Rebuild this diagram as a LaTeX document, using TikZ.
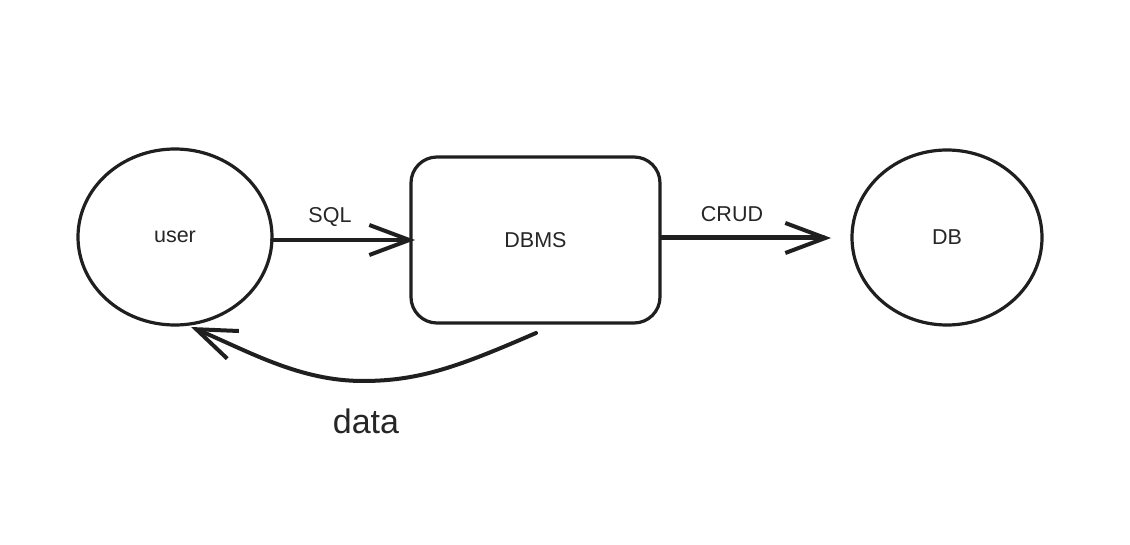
\documentclass[tikz,border=0pt]{standalone}
\usepackage{fontspec}
\setmainfont{Liberation Sans}
\usetikzlibrary{arrows.meta,shapes.geometric}
\begin{document}
\begin{tikzpicture}[x=1pt,y=-1pt,
  shapeline/.style={draw=black!88,line width=3.2pt},
  lbl/.style={font=\fontsize{21.5}{24}\selectfont,text=black!85},
  conn/.style={draw=black!88,line width=4pt,line cap=round,
    -{Straight Barb[length=40pt,width=30pt,line width=4pt]}}]
\useasboundingbox[fill=white] (0,0) rectangle (1130,545);
\node[shapeline,ellipse,minimum width=194pt,minimum height=176pt,inner sep=0pt] (user) at (175,237) {};
\node[lbl] at (user.center) {user};
\node[shapeline,rounded corners=26pt,minimum width=249pt,minimum height=166pt,inner sep=0pt] (dbms) at (535.5,240) {};
\node[lbl] at (dbms.center) {DBMS};
\node[shapeline,ellipse,minimum width=190pt,minimum height=175pt,inner sep=0pt] (db) at (947,237.5) {};
\node[lbl] at (db.center) {DB};
\coordinate (sqls) at (272,240);
\coordinate (sqle) at (415,240);
\coordinate (cruds) at (662,238);
\coordinate (crude) at (831,238);
\coordinate (datas) at (536,333);
\coordinate (datam) at (363,381);
\coordinate (datae) at (191,327);
\draw[conn] (sqls) -- (sqle);
\node[lbl] (sql) at (330,217) {SQL};
\draw[conn,line width=5pt] (cruds) -- (crude);
\node[lbl] (crud) at (732,214) {CRUD};
\draw[conn] (datas) .. controls (460,366) and (420,381) .. (datam) .. controls (300,381) and (250,352) .. (datae);
\node[font=\fontsize{34}{38}\selectfont,text=black!85] (data) at (366,421) {data};
\end{tikzpicture}
\end{document}
